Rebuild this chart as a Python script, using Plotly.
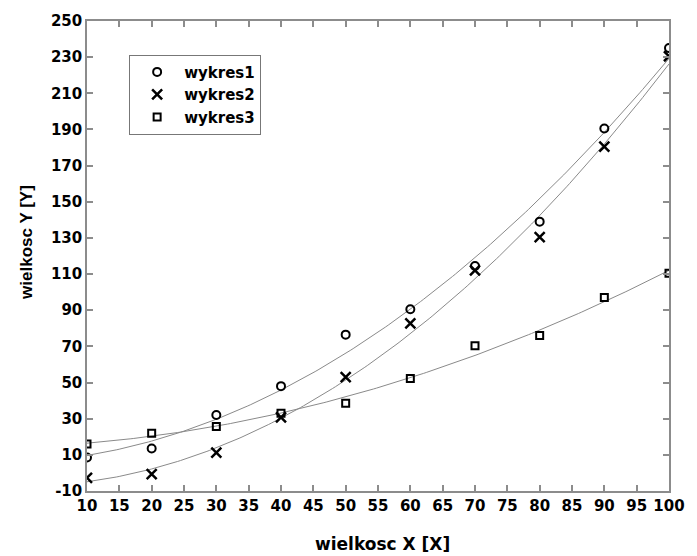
import numpy as np
import plotly.graph_objects as go

x_vals = [10, 20, 30, 40, 50, 60, 70, 80, 90, 100]
wykres1 = [8.5, 13.5, 32, 48, 76.5, 90.5, 114.5, 139, 190.5, 235]
wykres2 = [-2.7, -0.7, 11.2, 30.7, 53, 82.7, 112, 130.5, 180.5, 230.5]
wykres3 = [16, 22, 25.7, 33, 38.5, 52.2, 70.3, 76, 97, 110.5]
series_names = ["wykres1", "wykres2", "wykres3"]
x_ticks = list(range(10, 101, 5))
y_ticks = list(range(-10, 251, 20))

W, H = 697, 556
L, R, T, B = 87, 16, 16, 65
pw, ph = W - L - R, H - T - B

def px_x(p):
    return (p - L) / pw

def px_y(p):
    return (H - B - p) / ph

fig = go.Figure()
xs = np.linspace(10, 100, 200)
for ys in (wykres1, wykres2, wykres3):
    c = np.polyfit(x_vals, ys, 2)
    fig.add_trace(go.Scatter(x=xs, y=np.polyval(c, xs), mode="lines",
                             line=dict(color="#8a8a8a", width=1), showlegend=False,
                             hoverinfo="skip"))

styles = [
    dict(symbol="circle-open", size=8, line=dict(color="black", width=2), color="black"),
    dict(symbol="x-thin-open", size=10, line=dict(color="black", width=2.5), color="black"),
    dict(symbol="square-open", size=7, line=dict(color="black", width=2), color="black"),
]
for name, ys, st in zip(series_names, (wykres1, wykres2, wykres3), styles):
    fig.add_trace(go.Scatter(x=x_vals, y=ys, mode="markers", name=name, marker=st))

axis_common = dict(
    showline=True, linecolor="#8c8c8c", linewidth=1.5, mirror="ticks",
    ticks="inside", ticklen=6, tickwidth=1.5, tickcolor="#8c8c8c",
    showgrid=False, zeroline=False,
    tickfont=dict(family="DejaVu Sans", size=15, color="black", weight="bold"),
)
fig.update_xaxes(range=[10, 100], tickvals=x_ticks, ticktext=[str(v) for v in x_ticks],
                 **axis_common)
fig.update_yaxes(range=[-10, 250], tickvals=y_ticks, ticktext=[str(v) for v in y_ticks],
                 **axis_common)

fig.add_annotation(text="<b>wielkosc X [X]</b>", xref="paper", yref="paper",
                   x=px_x(389), y=px_y(545), xanchor="center", yanchor="middle",
                   showarrow=False, font=dict(family="DejaVu Sans", size=17, color="black"))
fig.add_annotation(text="<b>wielkosc Y [Y]</b>", xref="paper", yref="paper",
                   x=px_x(25), y=px_y(240), xanchor="center", yanchor="middle",
                   textangle=-90, showarrow=False,
                   font=dict(family="Liberation Sans", size=17, color="black"))

fig.update_layout(
    width=W, height=H,
    margin=dict(l=L, r=R, t=T, b=B),
    paper_bgcolor="white", plot_bgcolor="white",
    legend=dict(x=px_x(130), y=px_y(50), xanchor="left", yanchor="top",
                bgcolor="white", bordercolor="#777777", borderwidth=1,
                itemwidth=44,
                font=dict(family="DejaVu Sans", size=15, color="black", weight="bold")),
)

fig.write_html("out.html")
